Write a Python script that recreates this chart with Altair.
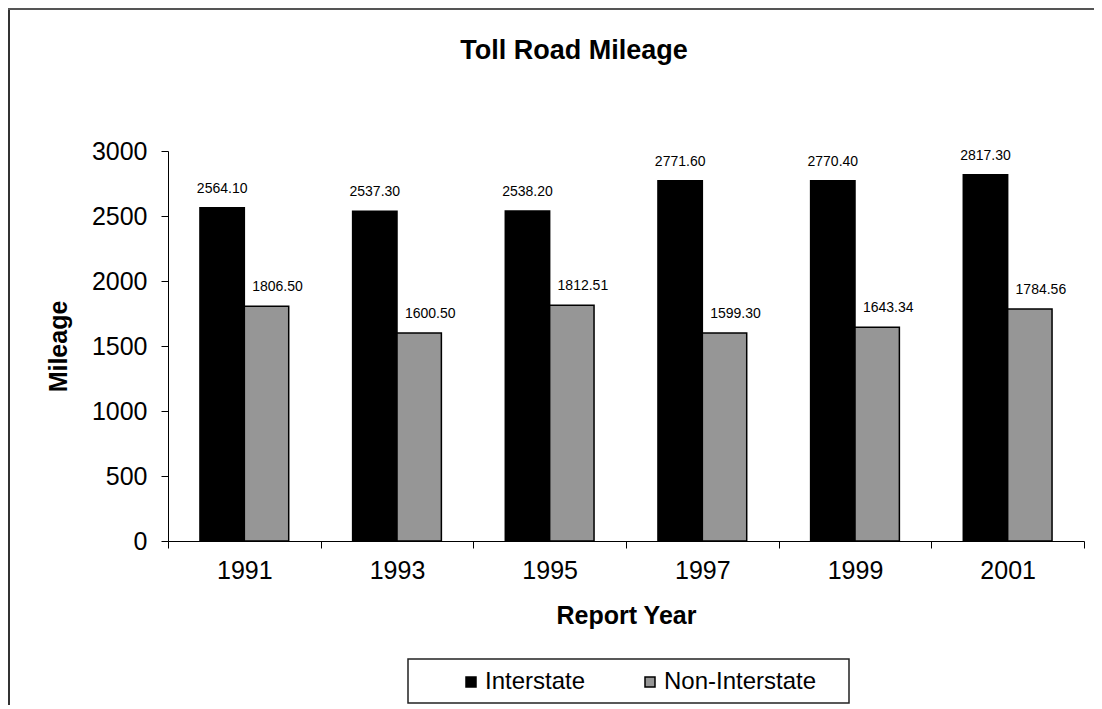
import altair as alt
import pandas as pd

years = ["1991", "1993", "1995", "1997", "1999", "2001"]
interstate = [2564.10, 2537.30, 2538.20, 2771.60, 2770.40, 2817.30]
non_interstate = [1806.50, 1600.50, 1812.51, 1599.30, 1643.34, 1784.56]
series_names = ["Interstate", "Non-Interstate"]
series_colors = ["#000000", "#969696"]
y_ticks = [0, 500, 1000, 1500, 2000, 2500, 3000]
chart_title = "Toll Road Mileage"

rows = []
for i, yr in enumerate(years):
    rows.append({"year": yr, "series": series_names[0], "value": interstate[i]})
    rows.append({"year": yr, "series": series_names[1], "value": non_interstate[i]})
df = pd.DataFrame(rows)

FONT = "Liberation Sans"

x_enc = alt.X(
    "year:N", sort=years, title="Report Year",
    scale=alt.Scale(paddingInner=0, paddingOuter=0),
    axis=alt.Axis(labelAngle=0, tickBand="extent", labelFontSize=25, labelPadding=10,
                  tickSize=7, titleFontSize=25, titleFontWeight="bold", titlePadding=20,
                  domainColor="black", tickColor="black", labelColor="black", titleColor="black"),
)
xoff_enc = alt.XOffset("series:N", sort=series_names,
                       scale=alt.Scale(paddingInner=0, paddingOuter=0.72))
y_enc = alt.Y(
    "value:Q", title="Mileage",
    scale=alt.Scale(domain=[0, 3000], nice=False),
    axis=alt.Axis(values=y_ticks, format="d", grid=False, labelFontSize=25, labelPadding=14,
                  tickSize=7, titleFontSize=25, titleFontWeight="bold", titlePadding=20,
                  domainColor="black", tickColor="black", labelColor="black", titleColor="black"),
)

base = alt.Chart(df)
bars = base.mark_bar(stroke="black", strokeWidth=1.5).encode(
    x=x_enc, xOffset=xoff_enc, y=y_enc,
    color=alt.Color(
        "series:N", scale=alt.Scale(domain=series_names, range=series_colors),
        legend=alt.Legend(
            orient="none", legendX=240, legendY=509, direction="horizontal", title=None,
            symbolType="square", symbolSize=100, symbolStrokeColor="black",
            symbolStrokeWidth=1.5, labelFontSize=24, labelColor="black", labelFont=FONT,
            padding=10, symbolOffset=41, columnPadding=11, labelOffset=2,
        ),
    ),
)
labels_inter = base.transform_filter(alt.datum.series == series_names[0]).mark_text(
    fontSize=14, baseline="alphabetic", dy=-15, font=FONT, color="black").encode(
    x=alt.X("year:N", sort=years), xOffset=xoff_enc, y=alt.Y("value:Q"),
    text=alt.Text("value:Q", format=".2f"),
)
labels_non = base.transform_filter(alt.datum.series == series_names[1]).mark_text(
    fontSize=14, baseline="alphabetic", dy=-15, dx=11, font=FONT, color="black").encode(
    x=alt.X("year:N", sort=years), xOffset=xoff_enc, y=alt.Y("value:Q"),
    text=alt.Text("value:Q", format=".2f"),
)

frame_data = alt.Data(values=[{"k": 0}])
left_border = alt.Chart(frame_data).mark_rule(color="#333333", strokeWidth=2).encode(
    x=alt.value(-159), y=alt.value(-143), y2=alt.value(555))
top_border = alt.Chart(frame_data).mark_rule(color="#555555", strokeWidth=2).encode(
    x=alt.value(-160), x2=alt.value(926), y=alt.value(-142))
legend_box = alt.Chart(frame_data).mark_rect(fill=None, stroke="#222222", strokeWidth=1.5).encode(
    x=alt.value(240), x2=alt.value(681), y=alt.value(508), y2=alt.value(552))
title_text = alt.Chart(frame_data).mark_text(
    text=chart_title, fontSize=27, fontWeight="bold", font=FONT, color="black",
    align="center", baseline="alphabetic").encode(x=alt.value(406), y=alt.value(-92))

chart = alt.layer(bars, labels_inter, labels_non, left_border, top_border, legend_box,
                  title_text).properties(
    width=916, height=390,
    autosize=alt.AutoSizeParams(type="none"),
    padding={"left": 160, "top": 143, "right": 10, "bottom": 164},
).configure(font=FONT).configure_view(stroke=None)

chart.save("out.html", embed_options={"renderer": "svg", "actions": False})
